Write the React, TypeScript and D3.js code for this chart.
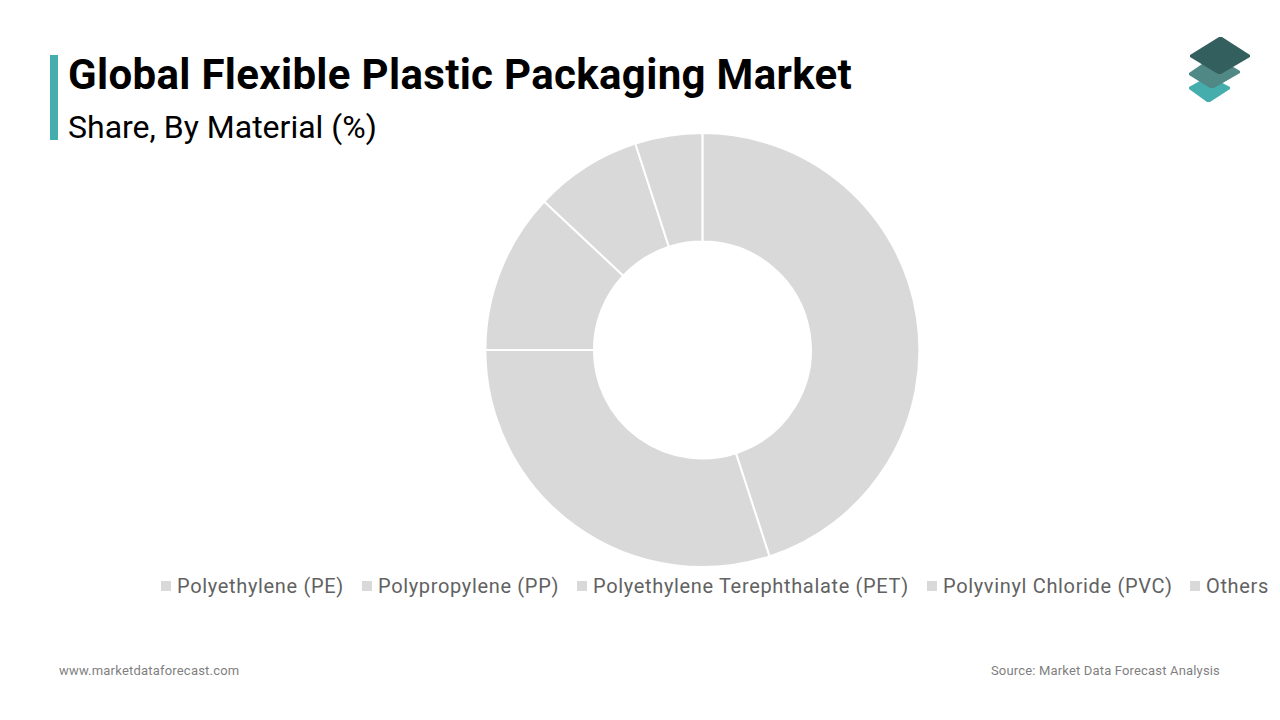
import * as React from 'react';
import * as d3 from 'd3';

const materials = [
  'Polyethylene (PE)',
  'Polypropylene (PP)',
  'Polyethylene Terephthalate (PET)',
  'Polyvinyl Chloride (PVC)',
  'Others',
];
const shares = [45, 30, 12, 8, 5];
const legendStarts = [161, 362, 577, 927, 1190];

const width = 1280;
const height = 720;
const cx = 702.4;
const cy = 350;
const outerRadius = 217;
const innerRadius = 108.5;
const sliceColor = '#d9d9d9';

const Logo: React.FC = () => (
  <g>
    <path d="M1189 87 L1209 76 L1230 87 L1230 89 L1210 102 L1207 102 L1189 89 Z" fill="#45aeac" />
    <path d="M1189 73 L1205 62 L1225 62 L1240 71 L1240 73 L1214 88 L1210 88 L1189 75 Z" fill="#4f8885" />
    <path d="M1190 55 L1219 37 L1222 37 L1250 55 L1250 57 L1221 74 L1218 74 L1190 57 Z" fill="#33605e" />
  </g>
);

const App: React.FC = () => {
  const pie = d3.pie<number>().sort(null).value(d => d);
  const arc = d3.arc<d3.PieArcDatum<number>>().innerRadius(innerRadius).outerRadius(outerRadius);
  const arcs = pie(shares);

  return (
    <div style={{ position: 'absolute', left: 0, top: 0, width, height, background: 'white' }}>
      <svg width={width} height={height} viewBox={`0 0 ${width} ${height}`} style={{ display: 'block', fontFamily: 'Roboto, sans-serif' }}>
        <rect x={50} y={55} width={8} height={85} fill="#45aeac" />
        <text x={68} y={89} fontSize={42} letterSpacing={0.33} fontWeight={700} fill="#000000">Global Flexible Plastic Packaging Market</text>
        <text x={68} y={138} fontSize={32} fill="#000000">Share, By Material (%)</text>

        <Logo />

        <g transform={`translate(${cx},${cy})`}>
          {arcs.map((d, i) => (
            <path key={materials[i]} d={arc(d) || ''} fill={sliceColor} stroke="#ffffff" strokeWidth={2} />
          ))}
        </g>

        {materials.map((name, i) => (
          <g key={name} transform={`translate(${legendStarts[i]},0)`}>
            <rect x={0} y={581} width={10} height={10} fill={sliceColor} />
            <text x={16} y={593} fontSize={20} letterSpacing={0.66} fill="#626262">{name}</text>
          </g>
        ))}

        <text x={59} y={675} fontSize={13} letterSpacing={0.2} fill="#7f7f7f">www.marketdataforecast.com</text>
        <text x={1220} y={675} fontSize={13} letterSpacing={0.17} textAnchor="end" fill="#7f7f7f">Source: Market Data Forecast Analysis</text>
      </svg>
    </div>
  );
};

export default App;
